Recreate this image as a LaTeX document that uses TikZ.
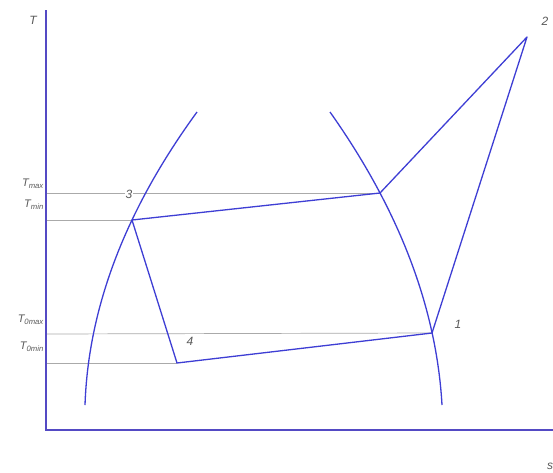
\documentclass[tikz,border=0pt]{standalone}
\usepackage{fontspec}
\setmainfont{Liberation Sans}
\definecolor{lineblue}{RGB}{62,62,212}
\definecolor{axisblue}{RGB}{84,74,196}
\definecolor{guidegray}{RGB}{170,170,170}
\definecolor{textgray}{RGB}{90,90,90}
\begin{document}
\begin{tikzpicture}[x=1pt,y=-1pt,
  axis/.style={draw=axisblue, line width=1.4pt},
  cyc/.style={draw=lineblue, line width=1.3pt, line join=round},
  curve/.style={draw=lineblue, line width=1.3pt},
  guide/.style={draw=guidegray, line width=0.7pt},
  lbl/.style={text=textgray, font=\itshape\fontsize{12}{12}\selectfont, inner sep=1pt},
  tl/.style={text=textgray, font=\itshape\fontsize{11}{11}\selectfont, inner sep=0pt, anchor=east}]
\useasboundingbox[fill=white] (0,0) rectangle (553,472);
% points
\coordinate (p1) at (432,333);
\coordinate (p2) at (527,37);
\coordinate (pa) at (380,193);
\coordinate (p3) at (132,220);
\coordinate (p4) at (177,363);
\coordinate (o) at (46,430);
\coordinate (ytop) at (46,10);
\coordinate (xend) at (553,430);
\coordinate (lb) at (85,405);
\coordinate (lt) at (197,112);
\coordinate (rt) at (330,112);
\coordinate (rb) at (442,405);
% guide lines
\coordinate (gmax) at (46,193);
\coordinate (gmin) at (46,220);
\coordinate (g0max) at (46,334);
\coordinate (g0min) at (46,363);
\draw[guide] (gmax) -- (pa);
\draw[guide] (gmin) -- (p3);
\draw[guide] (g0max) -- (p1);
\draw[guide] (g0min) -- (p4);
% saturation curves
\draw[curve] (lb) .. controls (88.3,307.3) and (125.7,209.7) .. (lt);
\draw[curve] (rt) .. controls (399.1,209.7) and (436.4,307.3) .. (rb);
% cycle
\draw[cyc] (p1) -- (p2) -- (pa) -- (p3) -- (p4) -- cycle;
% axes
\draw[axis] (ytop) -- (o) -- (xend);
% labels
\node[lbl, fill=white] (l3) at (129,194) {3};
\node[lbl, fill=white] (l4) at (190,341) {4};
\node[lbl] (l1) at (458,324) {1};
\node[lbl] (l2) at (545,21) {2};
\node[lbl] (lT) at (33,20) {T};
\node[lbl] (ls) at (550,466) {s};
\node[tl] (tmax) at (44,184) {T\textsubscript{max}};
\node[tl] (tmin) at (44,205) {T\textsubscript{min}};
\node[tl] (t0max) at (44,320) {T\textsubscript{0max}};
\node[tl] (t0min) at (44,347) {T\textsubscript{0min}};
\end{tikzpicture}
\end{document}
